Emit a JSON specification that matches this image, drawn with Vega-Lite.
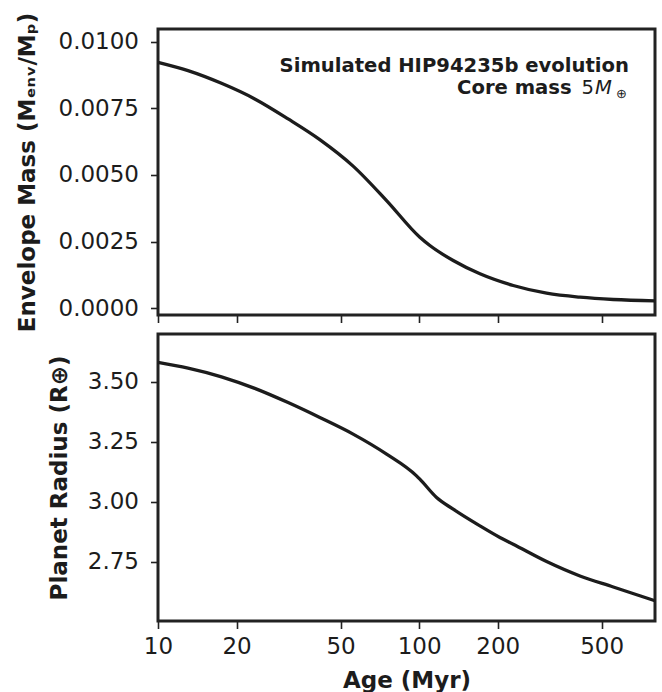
{
  "$schema": "https://vega.github.io/schema/vega-lite/v6.json",
  "background": "white",
  "padding": {"left": 14, "top": 10, "right": 5, "bottom": 2},
  "spacing": -13,
  "config": {
    "view": {"stroke": "#222222", "strokeWidth": 3},
    "axis": {
      "domain": false,
      "grid": false,
      "tickColor": "#222222",
      "tickWidth": 1.6,
      "tickSize": 7.5,
      "labelFont": "DejaVu Sans",
      "labelFontSize": 23,
      "labelColor": "#1c1c1c",
      "labelPadding": 12,
      "labelFlush": false,
      "titleFont": "DejaVu Sans",
      "titleFontSize": 23,
      "titleFontWeight": "bold",
      "titleColor": "#1c1c1c"
    }
  },
  "datasets": {
    "envelope": [
      {"age": 10, "env": 0.009224},
      {"age": 13.03, "env": 0.008913},
      {"age": 17.5, "env": 0.008437},
      {"age": 23.47, "env": 0.007852},
      {"age": 31.49, "env": 0.007102},
      {"age": 41.64, "env": 0.006326},
      {"age": 55.86, "env": 0.005332},
      {"age": 75.03, "env": 0.004038},
      {"age": 100.6, "env": 0.002662},
      {"age": 109.9, "env": 0.002351},
      {"age": 135, "env": 0.001789},
      {"age": 170.9, "env": 0.00129},
      {"age": 229.2, "env": 0.000851},
      {"age": 307.6, "env": 0.000562},
      {"age": 412.8, "env": 0.000412},
      {"age": 553.8, "env": 0.000326},
      {"age": 800, "env": 0.000277}
    ],
    "radius": [
      {"age": 10, "radius": 3.5808},
      {"age": 13.03, "radius": 3.5571},
      {"age": 17.5, "radius": 3.5208},
      {"age": 23.47, "radius": 3.4725},
      {"age": 31.49, "radius": 3.4133},
      {"age": 41.64, "radius": 3.3513},
      {"age": 55.86, "radius": 3.2821},
      {"age": 75.03, "radius": 3.1988},
      {"age": 97.7, "radius": 3.1083},
      {"age": 100.6, "radius": 3.0946},
      {"age": 116.6, "radius": 3.0183},
      {"age": 135, "radius": 2.9696},
      {"age": 170.9, "radius": 2.9},
      {"age": 203.8, "radius": 2.8517},
      {"age": 229.2, "radius": 2.8238},
      {"age": 307.6, "radius": 2.7517},
      {"age": 412.8, "radius": 2.6917},
      {"age": 553.8, "radius": 2.6458},
      {"age": 800, "radius": 2.5883}
    ]
  },
  "vconcat": [
    {
      "width": 497,
      "height": 286,
      "layer": [
        {
          "data": {"name": "envelope"},
          "mark": {"type": "line", "color": "#1c1c1c", "strokeWidth": 3.3, "interpolate": "monotone"},
          "encoding": {
            "x": {"field": "age", "type": "quantitative",
                  "scale": {"type": "log", "domain": [10, 800], "nice": false},
                  "axis": {"values": [10, 20, 50, 100, 200, 500], "labels": false, "labelPadding": 0, "title": null}},
            "y": {"field": "env", "type": "quantitative",
                  "scale": {"domain": [-0.000255, 0.010476], "nice": false, "zero": false},
                  "axis": {"values": [0, 0.0025, 0.005, 0.0075, 0.01], "format": ".4f",
                           "title": "Envelope Mass (Mₑₙᵥ/Mₚ)", "titlePadding": 19}}
          }
        },
        {
          "data": {"values": [{"age": 636, "env": 0.00885, "label": "Simulated HIP94235b evolution"},
                              {"age": 383.7, "env": 0.00804, "label": "Core mass"}]},
          "mark": {"type": "text", "align": "right", "baseline": "alphabetic", "font": "DejaVu Sans",
                   "fontWeight": "bold", "fontSize": 19.6, "color": "#1c1c1c"},
          "encoding": {
            "x": {"field": "age", "type": "quantitative"},
            "y": {"field": "env", "type": "quantitative"},
            "text": {"field": "label"}
          }
        },
        {
          "data": {"values": [{"age": 418, "env": 0.00804, "label": "5"}]},
          "mark": {"type": "text", "align": "left", "baseline": "alphabetic", "font": "DejaVu Sans",
                   "fontSize": 19.6, "color": "#1c1c1c"},
          "encoding": {
            "x": {"field": "age", "type": "quantitative"},
            "y": {"field": "env", "type": "quantitative"},
            "text": {"field": "label"}
          }
        },
        {
          "data": {"values": [{"age": 471, "env": 0.00804, "label": "M"}]},
          "mark": {"type": "text", "align": "left", "baseline": "alphabetic", "font": "DejaVu Sans",
                   "fontStyle": "italic", "fontSize": 19.6, "color": "#1c1c1c"},
          "encoding": {
            "x": {"field": "age", "type": "quantitative"},
            "y": {"field": "env", "type": "quantitative"},
            "text": {"field": "label"}
          }
        },
        {
          "data": {"values": [{"age": 567, "env": 0.0079, "label": "⊕"}]},
          "mark": {"type": "text", "align": "left", "baseline": "alphabetic", "font": "DejaVu Sans",
                   "fontSize": 13, "color": "#1c1c1c"},
          "encoding": {
            "x": {"field": "age", "type": "quantitative"},
            "y": {"field": "env", "type": "quantitative"},
            "text": {"field": "label"}
          }
        }
      ]
    },
    {
      "width": 497,
      "height": 287,
      "data": {"name": "radius"},
      "mark": {"type": "line", "color": "#1c1c1c", "strokeWidth": 3.3, "interpolate": "monotone"},
      "encoding": {
        "x": {"field": "age", "type": "quantitative",
              "scale": {"type": "log", "domain": [10, 800], "nice": false},
              "axis": {"values": [10, 20, 50, 100, 200, 500], "format": "~g", "title": "Age (Myr)",
                       "labelPadding": 7, "titlePadding": 11}},
        "y": {"field": "radius", "type": "quantitative",
              "scale": {"domain": [2.504, 3.699], "nice": false, "zero": false},
              "axis": {"values": [2.75, 3.0, 3.25, 3.5], "format": ".2f",
                       "title": "Planet Radius (R⊕)", "titlePadding": 16}}
      }
    }
  ]
}
